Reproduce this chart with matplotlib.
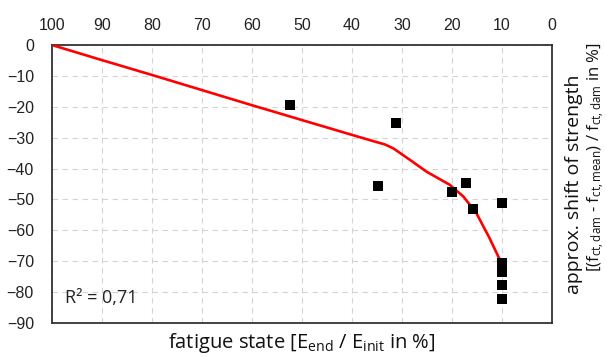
import matplotlib

matplotlib.use("Agg")
import matplotlib.pyplot as plt

# measured points: fatigue state (x, %) vs. strength shift (y, %)
state = [52.4, 31.2, 34.9, 20.1, 17.2, 15.9, 10.1, 10.0, 10.0, 10.0, 10.0, 10.0]
shift = [-19.4, -25.2, -45.6, -47.5, -44.8, -53.1, -51.3, -70.5, -72.0, -73.5, -77.7, -82.2]

# fitted trend line
fit_x = [100, 90, 80, 70, 60, 50, 40, 36, 33.4, 31.7, 28.4, 25.1, 20.4, 17.7, 15.1, 12.5, 10]
fit_y = [0, -4.9, -9.7, -14.6, -19.5, -24.3, -29.1, -31.0, -32.2, -33.5, -37.2, -41.0, -45.3, -49.1, -54.5, -62.5, -71.0]

x_ticks = [100, 90, 80, 70, 60, 50, 40, 30, 20, 10, 0]
y_ticks = [0, -10, -20, -30, -40, -50, -60, -70, -80, -90]

LABEL_FONT = "Open Sans"
plt.rcParams["mathtext.fontset"] = "custom"
plt.rcParams["mathtext.rm"] = LABEL_FONT
plt.rcParams["mathtext.it"] = LABEL_FONT

fig = plt.figure(figsize=(6.06, 3.58), dpi=100, facecolor="white")
ax = fig.add_axes([52 / 606, 1 - 323 / 358, 500 / 606, 278 / 358])

ax.plot(fit_x, fit_y, color="#ff0000", lw=1.9, zorder=3)
ax.scatter(state, shift, marker="s", s=62, color="black", zorder=4, linewidths=0)

ax.set_xlim(100, 0)
ax.set_ylim(-90, 0)
ax.set_xticks(x_ticks)
ax.set_yticks(y_ticks)
ax.xaxis.tick_top()
ax.tick_params(length=0, labelsize=11.5, colors="#222222", pad=9)
ax.tick_params(axis="y", pad=13)
for lab in ax.get_xticklabels() + ax.get_yticklabels():
    lab.set_family("Liberation Sans")

ax.grid(True, color="#d4d4d4", lw=0.8, ls=(0, (5, 4)))
ax.set_axisbelow(True)
for s in ax.spines.values():
    s.set_color("#333333")
    s.set_linewidth(1.3)

ax.text(97.4, -81.9, "R² = 0,71", family=LABEL_FONT, fontsize=13, va="center", ha="left", color="#222222")

fig.text(302 / 606, 1 - 343 / 358, r"fatigue state [E$_{\mathrm{end}}$ / E$_{\mathrm{init}}$ in %]",
         family=LABEL_FONT, fontsize=14.5, ha="center", va="center", color="#111111")

fig.text(574 / 606, 1 - 184 / 358, "approx. shift of strength", rotation=90,
         family=LABEL_FONT, fontsize=14, ha="center", va="center", color="#111111")
fig.text(596 / 606, 1 - 42 / 358,
         r"[(f$_{\mathrm{ct,dam}}$ - f$_{\mathrm{ct,mean}}$) / f$_{\mathrm{ct,dam}}$ in %]",
         rotation=90, family=LABEL_FONT, fontsize=12, ha="center", va="top", color="#111111")

fig.savefig("out.png", dpi=100, facecolor="white")
